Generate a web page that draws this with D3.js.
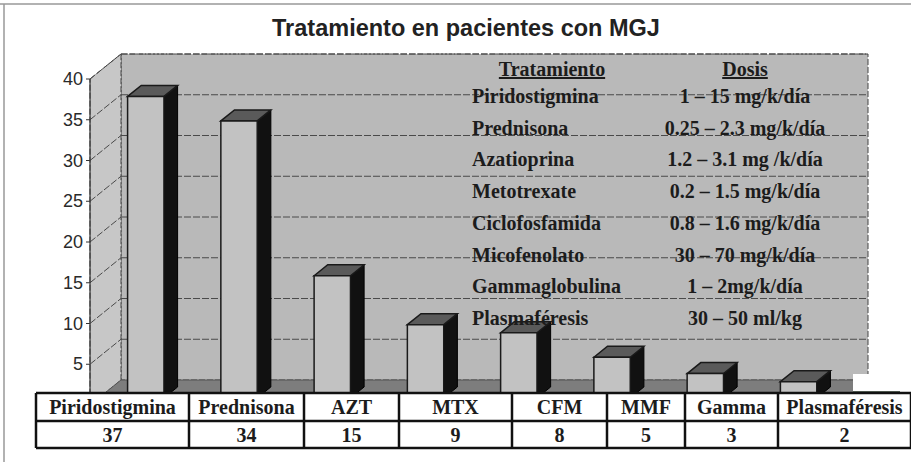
<!DOCTYPE html>
<html>
<head>
<meta charset="utf-8">
<script src="https://cdn.jsdelivr.net/npm/d3@7"></script>
<style>
  body { margin: 0; background: #fff; }
  svg { display: block; }
</style>
</head>
<body>
<svg id="chart" width="911" height="462"></svg>
<script>
  // chart values
  var categories = ["Piridostigmina", "Prednisona", "AZT", "MTX", "CFM", "MMF", "Gamma", "Plasmaféresis"];
  var patients = [37, 34, 15, 9, 8, 5, 3, 2];
  var yTicks = [5, 10, 15, 20, 25, 30, 35, 40];
  var drugNames = ["Piridostigmina", "Prednisona", "Azatioprina", "Metotrexate", "Ciclofosfamida", "Micofenolato", "Gammaglobulina", "Plasmaféresis"];
  var doses = ["1 – 15 mg/k/día", "0.25 – 2.3 mg/k/día", "1.2 – 3.1 mg /k/día", "0.2 – 1.5 mg/k/día", "0.8 – 1.6 mg/k/día", "30 – 70 mg/k/día", "1 – 2mg/k/día", "30 – 50 ml/kg"];
  var title = "Tratamiento en pacientes con MGJ";

  // layout
  var back = {left: 121, right: 868, top: 54, bottom: 380};
  var depth = {dx: -31, dy: 25};
  var colEdges = [36, 189, 304, 399, 512, 607, 685, 778, 911];
  var rowEdges = [393, 421, 448];

  var svg = d3.select("#chart");

  var y = d3.scaleLinear().domain([0, 40]).range([back.bottom, back.top]);
  var x = d3.scaleBand().domain(categories)
    .range([back.left, back.right])
    .paddingInner(0.61).paddingOuter(0.31);

  // point at value v, back x xb, depth fraction f (0 back, 1 front)
  function P(xb, v, f) {
    return [xb + depth.dx * f, y(v) + depth.dy * f];
  }
  function poly(pts) { return pts.map(function(p) { return p.join(","); }).join(" "); }

  // frame
  svg.append("line").attr("x1", 0).attr("x2", 911).attr("y1", 4).attr("y2", 4)
    .attr("stroke", "#999").attr("stroke-width", 1.5);
  svg.append("line").attr("x1", 4).attr("x2", 4).attr("y1", 4).attr("y2", 462)
    .attr("stroke", "#999").attr("stroke-width", 1.5);

  // title
  svg.append("text").attr("x", 466).attr("y", 36)
    .attr("text-anchor", "middle")
    .style("font-family", "Liberation Sans, Arial, sans-serif")
    .style("font-weight", "bold").style("font-size", "23.5px")
    .attr("fill", "#222").text(title);

  // walls
  svg.append("rect").attr("x", back.left).attr("y", back.top)
    .attr("width", back.right - back.left).attr("height", back.bottom - back.top)
    .attr("fill", "#b9b9b9").attr("stroke", "#444").attr("stroke-width", 1)
    .attr("stroke-dasharray", "6,2");

  svg.append("polygon")
    .attr("points", poly([P(back.left, 40, 1), P(back.left, 40, 0), P(back.left, 0, 0), P(back.left, 0, 1)]))
    .attr("fill", "#c7c7c7").attr("stroke", "#444").attr("stroke-width", 1)
    .attr("stroke-dasharray", "6,2");

  svg.append("polygon")
    .attr("points", poly([P(back.left, 0, 0), P(back.right, 0, 0), P(back.right, 0, 1), P(back.left, 0, 1)]))
    .attr("fill", "#7d7d7d").attr("stroke", "#555").attr("stroke-width", 1);

  // gridlines
  var grid = svg.append("g").attr("stroke", "#4a4a4a").attr("stroke-width", 1)
    .attr("stroke-dasharray", "7,2").attr("fill", "none");
  yTicks.forEach(function(t) {
    var a = P(back.left, t, 0), b = P(back.right, t, 0), c = P(back.left, t, 1);
    grid.append("line").attr("x1", a[0]).attr("y1", a[1]).attr("x2", b[0]).attr("y2", b[1]);
    grid.append("line").attr("x1", c[0]).attr("y1", c[1]).attr("x2", a[0]).attr("y2", a[1]);
  });

  // left axis
  var a0 = P(back.left, 0, 1), a1 = P(back.left, 40, 1);
  svg.append("line").attr("x1", a0[0]).attr("y1", a0[1]).attr("x2", a1[0]).attr("y2", a1[1])
    .attr("stroke", "#333").attr("stroke-width", 1.2);
  var yl = svg.append("g");
  yTicks.forEach(function(t) {
    var p = P(back.left, t, 1);
    yl.append("line").attr("x1", p[0] - 4).attr("x2", p[0]).attr("y1", p[1]).attr("y2", p[1])
      .attr("stroke", "#333");
    yl.append("text").attr("x", p[0] - 7).attr("y", p[1] + 6)
      .attr("text-anchor", "end")
      .style("font-family", "Liberation Sans, Arial, sans-serif")
      .style("font-size", "18px").attr("fill", "#2a2a2a").text(t);
  });

  // bars
  var fFront = 0.72, fBack = 0.28;
  var bars = svg.append("g");
  categories.forEach(function(c, i) {
    var v = patients[i];
    var xl = x(c), xr = x(c) + x.bandwidth();
    var fl0 = P(xl, 0, fFront), fr0 = P(xr, 0, fFront);
    var flT = P(xl, v, fFront), frT = P(xr, v, fFront);
    var blT = P(xl, v, fBack), brT = P(xr, v, fBack), br0 = P(xr, 0, fBack);
    // side
    bars.append("polygon").attr("points", poly([frT, brT, br0, fr0]))
      .attr("fill", "#111").attr("stroke", "#000").attr("stroke-width", 1);
    // top
    bars.append("polygon").attr("points", poly([flT, blT, brT, frT]))
      .attr("fill", "#5a5a5a").attr("stroke", "#1a1a1a").attr("stroke-width", 1.5);
    // front
    bars.append("polygon").attr("points", poly([fl0, flT, frT, fr0]))
      .attr("fill", "#c2c2c2").attr("stroke", "#1a1a1a").attr("stroke-width", 1.5);
  });

  // overlay table of doses
  var serif = "Liberation Serif, Times New Roman, serif";
  var ov = svg.append("g").style("font-family", serif).style("font-weight", "bold")
    .style("font-size", "20px").attr("fill", "#1c1c1c");
  ov.append("text").attr("x", 552).attr("y", 76).attr("text-anchor", "middle")
    .style("text-decoration", "underline").text("Tratamiento");
  ov.append("text").attr("x", 745).attr("y", 76).attr("text-anchor", "middle")
    .style("text-decoration", "underline").text("Dosis");
  var rowY = d3.scalePoint().domain(drugNames).range([103, 325]);
  drugNames.forEach(function(n, i) {
    ov.append("text").attr("x", 472).attr("y", rowY(n)).text(n);
    ov.append("text").attr("x", 745).attr("y", rowY(n)).attr("text-anchor", "middle").text(doses[i]);
  });

  // white patch at the right end of the floor
  svg.append("rect").attr("x", 853).attr("y", 374).attr("width", 47).attr("height", 18).attr("fill", "#fff");
  svg.append("line").attr("x1", 853).attr("x2", 900).attr("y1", 392).attr("y2", 392)
    .attr("stroke", "#2a3a2a").attr("stroke-width", 1.5);

  // data table
  var tb = svg.append("g");
  tb.append("rect").attr("x", colEdges[0]).attr("y", rowEdges[0])
    .attr("width", colEdges[colEdges.length - 1] - colEdges[0])
    .attr("height", rowEdges[2] - rowEdges[0]).attr("fill", "#fff");
  rowEdges.forEach(function(ry) {
    tb.append("line").attr("x1", colEdges[0]).attr("x2", colEdges[colEdges.length - 1])
      .attr("y1", ry).attr("y2", ry).attr("stroke", "#111").attr("stroke-width", 2.5);
  });
  colEdges.forEach(function(cx) {
    tb.append("line").attr("x1", cx).attr("x2", cx)
      .attr("y1", rowEdges[0]).attr("y2", rowEdges[2]).attr("stroke", "#111").attr("stroke-width", 2.5);
  });
  var tt = tb.append("g").style("font-family", serif).style("font-weight", "bold")
    .style("font-size", "20px").attr("fill", "#1c1c1c").attr("text-anchor", "middle");
  categories.forEach(function(c, i) {
    var cx = (colEdges[i] + colEdges[i + 1]) / 2;
    tt.append("text").attr("x", cx).attr("y", rowEdges[0] + 21).text(c);
    tt.append("text").attr("x", cx).attr("y", rowEdges[1] + 21).text(patients[i]);
  });
</script>
</body>
</html>
